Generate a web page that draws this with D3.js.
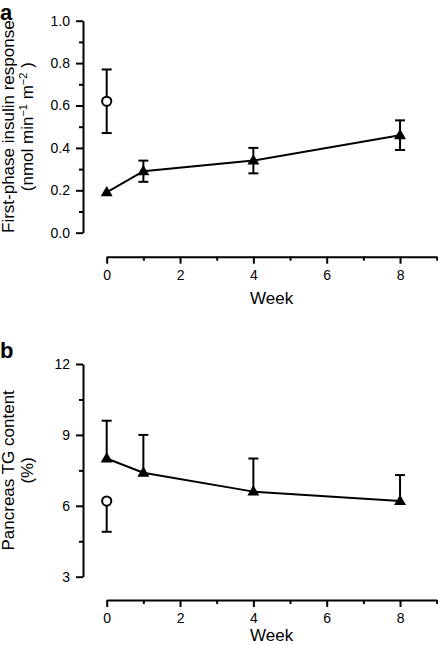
<!DOCTYPE html>
<html>
<head>
<meta charset="utf-8">
<script src="https://cdn.jsdelivr.net/npm/d3@7"></script>
<style>
  html, body { margin: 0; padding: 0; background: #fff; }
  svg { display: block; }
  text { font-family: "Liberation Sans", Arial, Helvetica, sans-serif; fill: #000; }
</style>
</head>
<body>
<svg id="chart" width="438" height="645"></svg>
<script>
// ---- Data ----
const weeks = [0, 1, 4, 8];
const insulinMean = [0.19, 0.29, 0.34, 0.46];
const insulinErr = [0, 0.05, 0.06, 0.07];
const insulinCtrlWeek = [0];
const insulinCtrlMean = [0.62];
const insulinCtrlErr = [0.15];

const tgMean = [8.0, 7.4, 6.6, 6.2];
const tgErrUp = [1.6, 1.6, 1.4, 1.1];
const tgCtrlWeek = [0];
const tgCtrlMean = [6.2];
const tgCtrlErrDown = [1.3];

const xMajorTicks = [0, 2, 4, 6, 8];
const xMinorTicks = [1, 3, 5, 7, 9];
const aYMajorTicks = [0, 0.2, 0.4, 0.6, 0.8, 1.0];
const aYMinorTicks = [0.1, 0.3, 0.5, 0.7, 0.9];
const bYMajorTicks = [3, 6, 9, 12];
const bYMinorTicks = [4.5, 7.5, 10.5];

// ---- Drawing ----
const svg = d3.select("#chart");
const xRange = [106.7, 436.7];
const yAxisX = 83;

function panel(opts) {
  const g = svg.append("g");
  const x = d3.scaleLinear().domain([0, 9]).range(xRange);
  const y = d3.scaleLinear().domain(opts.yDomain).range(opts.yRange);

  // y axis minor
  const yMinor = g.append("g").attr("transform", `translate(${yAxisX},0)`)
    .call(d3.axisLeft(y).tickValues(opts.yMinor).tickSize(4).tickSizeOuter(0).tickFormat(""));
  yMinor.select(".domain").remove();
  // y axis major
  const yMajor = g.append("g").attr("transform", `translate(${yAxisX},0)`)
    .call(d3.axisLeft(y).tickValues(opts.yMajor).tickSize(7).tickSizeOuter(0).tickPadding(6).tickFormat(opts.yFormat));
  [yMinor, yMajor].forEach(a => {
    a.selectAll("line").attr("stroke-width", 2);
    a.selectAll(".domain").attr("stroke-width", 2);
    a.selectAll("text").style("font-size", "14px").attr("font-family", null);
  });

  // x axis
  const xMinor = g.append("g").attr("transform", `translate(0,${opts.xAxisY})`)
    .call(d3.axisBottom(x).tickValues(xMinorTicks).tickSize(4).tickSizeOuter(0).tickFormat(""));
  xMinor.select(".domain").remove();
  const xMajor = g.append("g").attr("transform", `translate(0,${opts.xAxisY})`)
    .call(d3.axisBottom(x).tickValues(xMajorTicks).tickSize(7).tickSizeOuter(0).tickPadding(6).tickFormat(d3.format("d")));
  [xMinor, xMajor].forEach(a => {
    a.selectAll("line").attr("stroke-width", 2);
    a.selectAll(".domain").attr("stroke-width", 2);
    a.selectAll("text").style("font-size", "14px").attr("font-family", null);
  });

  // x title
  g.append("text").attr("x", (xRange[0] + xRange[1]) / 2).attr("y", opts.weekY)
    .attr("text-anchor", "middle").style("font-size", "17px").text("Week");

  // y title
  const yc = (opts.yRange[0] + opts.yRange[1]) / 2;
  g.append("text").attr("transform", `translate(14,${yc}) rotate(-90)`)
    .attr("text-anchor", "middle").style("font-size", "17px").text(opts.yTitle1);
  const t2 = g.append("text").attr("transform", `translate(33,${yc}) rotate(-90)`)
    .attr("text-anchor", "middle").style("font-size", "17px");
  opts.yTitle2(t2);

  // panel letter
  g.append("text").attr("x", 0).attr("y", opts.letterY)
    .style("font-size", "22px").style("font-weight", "bold").text(opts.letter);

  // line
  const pts = weeks.map((w, i) => [w, opts.mean[i]]);
  g.append("path").datum(pts)
    .attr("fill", "none").attr("stroke", "#000").attr("stroke-width", 2)
    .attr("d", d3.line().x(d => x(d[0])).y(d => y(d[1])));

  // error bars
  opts.errors.forEach(e => {
    if (e.lo === e.hi) return;
    g.append("line").attr("x1", x(e.w)).attr("x2", x(e.w)).attr("y1", y(e.lo)).attr("y2", y(e.hi))
      .attr("stroke", "#000").attr("stroke-width", 2);
    e.caps.forEach(v => {
      g.append("line").attr("x1", x(e.w) - 5).attr("x2", x(e.w) + 5).attr("y1", y(v)).attr("y2", y(v))
        .attr("stroke", "#000").attr("stroke-width", 2);
    });
  });

  // control circles
  opts.ctrl.forEach(c => {
    g.append("circle").attr("cx", x(c.w)).attr("cy", y(c.m)).attr("r", 4.6)
      .attr("fill", "#fff").attr("stroke", "#000").attr("stroke-width", 2);
  });

  // triangles
  g.selectAll(".tri").data(pts).enter().append("path")
    .attr("transform", d => `translate(${x(d[0])},${y(d[1]) + 0.5})`)
    .attr("d", d3.symbol().type(d3.symbolTriangle).size(62))
    .attr("fill", "#000");
}

panel({
  letter: "a", letterY: 20,
  yDomain: [0, 1], yRange: [232.7, 20.7],
  yMajor: aYMajorTicks, yMinor: aYMinorTicks, yFormat: d3.format(".1f"),
  xAxisY: 256.7, weekY: 303.5,
  mean: insulinMean,
  yTitle1: "First-phase insulin response",
  yTitle2: t => {
    t.append("tspan").text("(nmol min");
    t.append("tspan").attr("dy", -6).style("font-size", "11px").text("−1");
    t.append("tspan").attr("dy", 6).text(" m");
    t.append("tspan").attr("dy", -6).style("font-size", "11px").text("−2");
    t.append("tspan").attr("dy", 6).text(" )");
  },
  errors: weeks.map((w, i) => ({ w, lo: insulinMean[i] - insulinErr[i], hi: insulinMean[i] + insulinErr[i],
    caps: [insulinMean[i] - insulinErr[i], insulinMean[i] + insulinErr[i]] }))
    .concat(insulinCtrlWeek.map((w, i) => ({ w, lo: insulinCtrlMean[i] - insulinCtrlErr[i], hi: insulinCtrlMean[i] + insulinCtrlErr[i],
      caps: [insulinCtrlMean[i] - insulinCtrlErr[i], insulinCtrlMean[i] + insulinCtrlErr[i]] }))),
  ctrl: insulinCtrlWeek.map((w, i) => ({ w, m: insulinCtrlMean[i] }))
});

panel({
  letter: "b", letterY: 358,
  yDomain: [3, 12], yRange: [576.7, 364],
  yMajor: bYMajorTicks, yMinor: bYMinorTicks, yFormat: d3.format("d"),
  xAxisY: 600, weekY: 641,
  mean: tgMean,
  yTitle1: "Pancreas TG content",
  yTitle2: t => { t.text("(%)"); },
  errors: weeks.map((w, i) => ({ w, lo: tgMean[i], hi: tgMean[i] + tgErrUp[i], caps: [tgMean[i] + tgErrUp[i]] }))
    .concat(tgCtrlWeek.map((w, i) => ({ w, lo: tgCtrlMean[i] - tgCtrlErrDown[i], hi: tgCtrlMean[i],
      caps: [tgCtrlMean[i] - tgCtrlErrDown[i]] }))),
  ctrl: tgCtrlWeek.map((w, i) => ({ w, m: tgCtrlMean[i] }))
});
</script>
</body>
</html>
